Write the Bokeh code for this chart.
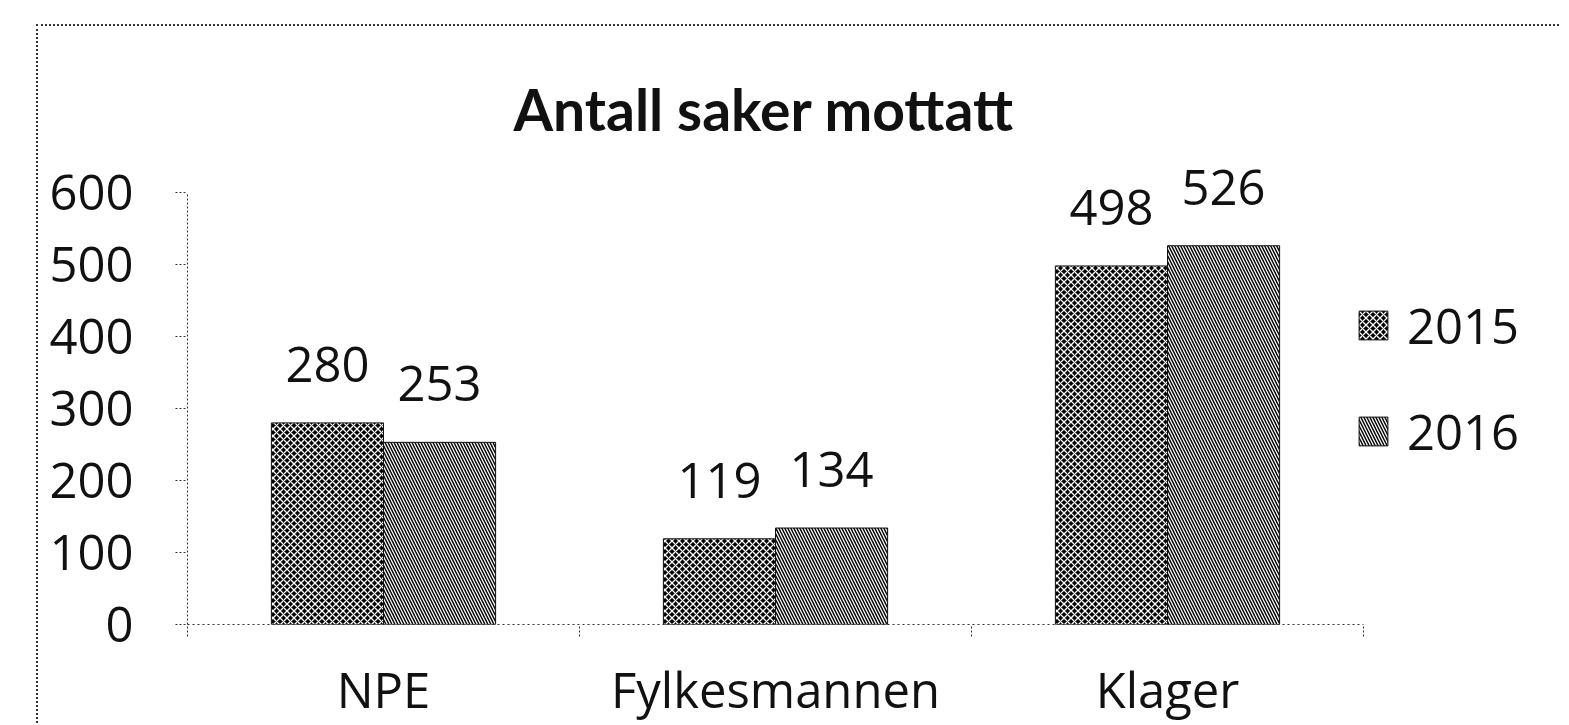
from bokeh.plotting import figure
from bokeh.models import (ColumnDataSource, Range1d, FixedTicker, LabelSet, Legend, LegendItem, Title)
from bokeh.transform import dodge
from bokeh.core.properties import value
from bokeh.embed import file_html
from bokeh.resources import INLINE

categories = ["NPE", "Fylkesmannen", "Klager"]
series_names = ["2015", "2016"]
values_2015 = [280, 119, 498]
values_2016 = [253, 134, 526]
y_ticks = [0, 100, 200, 300, 400, 500, 600]
y_max = 600
title_text = "Antall saker mottatt"

FONT = "Open Sans"
FS = "49px"
INK = "#111111"

# layout (pixels)
W, H = 1523, 699
MB_L, MB_R, MB_T, MB_B = 149, 6, 116, 101
CAT_PX = 392
AXIS_PX = 432          # pixel height of 0..y_max
n = len(categories)
x_end = (W - MB_L - MB_R) / CAT_PX
frame_h = H - MB_T - MB_B
y_end = y_max * frame_h / AXIS_PX

centers = [i + 0.5 for i in range(n)]
source = ColumnDataSource(dict(
    x=centers, cat=categories,
    v15=values_2015, v16=values_2016,
    t15=[str(v) for v in values_2015], t16=[str(v) for v in values_2016],
))

p = figure(width=W, height=H, output_backend="svg", toolbar_location=None,
           x_range=Range1d(0, x_end), y_range=Range1d(0, y_end),
           min_border_left=MB_L, min_border_right=MB_R, min_border_top=MB_T, min_border_bottom=MB_B,
           margin=(24, 0, 0, 36),
           styles={"border-top": "2px dotted #333", "border-left": "2px dotted #333"})
p.title = Title(text=title_text, text_font="Lato", text_font_style="bold",
                text_font_size="57px", text_color=INK, align="left", offset=326, standoff=0)
p.outline_line_color = None
p.xgrid.visible = False
p.ygrid.visible = False
p.background_fill_color = "white"
p.border_fill_color = "white"

w = 0.286
r15 = p.vbar(x=dodge("x", -w / 2), top="v15", width=w, source=source,
             fill_color="#000000", line_color="#111111", line_width=1,
             hatch_pattern="x", hatch_color="white", hatch_scale=7, hatch_weight=1.3)
r16 = p.vbar(x=dodge("x", w / 2), top="v16", width=w, source=source,
             fill_color="#000000", line_color="#111111", line_width=1,
             hatch_pattern="\\", hatch_color="white", hatch_scale=6, hatch_weight=1.3)

for col, off, top in (("t15", -w / 2, "v15"), ("t16", w / 2, "v16")):
    p.add_layout(LabelSet(x=dodge("x", off), y=top, text=col, source=source,
                          text_align="center", text_baseline="alphabetic", y_offset=41,
                          text_font=value(FONT), text_font_size=value(FS), text_color=INK))

# y axis
ya = p.yaxis[0]
ya.bounds = (0, y_max)
ya.ticker = FixedTicker(ticks=y_ticks)
ya.axis_line_dash = "2 2"
ya.axis_line_color = "#333333"
ya.major_tick_line_dash = "2 2"
ya.major_tick_line_color = "#333333"
ya.major_tick_out = 12
ya.major_tick_in = 0
ya.minor_tick_line_color = None
ya.major_label_standoff = 42
ya.major_label_text_font = FONT
ya.major_label_text_font_size = FS
ya.major_label_text_color = INK

# x axis
xa = p.xaxis[0]
xa.bounds = (0, n)
xa.ticker = FixedTicker(ticks=centers, minor_ticks=list(range(n + 1)))
xa.major_label_overrides = {c: name for c, name in zip(centers, categories)}
xa.axis_line_dash = "2 3"
xa.axis_line_color = "#333333"
xa.major_tick_out = 0
xa.major_tick_in = 0
xa.major_tick_line_color = None
xa.minor_tick_out = 12
xa.minor_tick_in = 0
xa.minor_tick_line_color = "#333333"
xa.minor_tick_line_dash = "2 2"
xa.major_label_standoff = 19
xa.major_label_text_font = FONT
xa.major_label_text_font_size = FS
xa.major_label_text_color = INK

legend = Legend(items=[LegendItem(label=series_names[0], renderers=[r15]),
                       LegendItem(label=series_names[1], renderers=[r16])],
                location=(1168, 160), orientation="vertical",
                glyph_width=36, glyph_height=36, label_standoff=16, label_height=40,
                spacing=40, padding=0, margin=0,
                border_line_color=None, background_fill_alpha=0,
                label_text_font=FONT, label_text_font_size=FS, label_text_color=INK,
                label_text_baseline="middle")
p.add_layout(legend)

open("out.html", "w").write(file_html(p, INLINE))
